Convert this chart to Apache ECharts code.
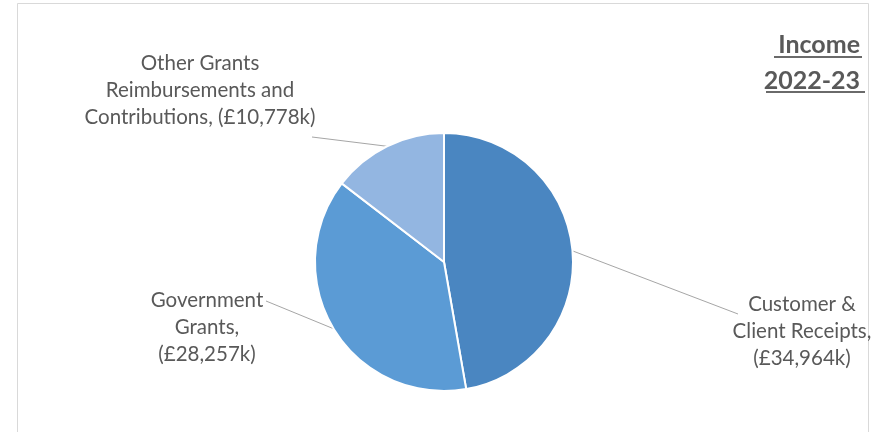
<!DOCTYPE html>
<html>
<head>
<meta charset="utf-8">
<script src="https://cdn.jsdelivr.net/npm/echarts@6/dist/echarts.min.js"></script>
<style>
html,body{margin:0;padding:0;background:#fff;}
#main{width:879px;height:432px;}
</style>
</head>
<body>
<div id="main"></div>
<script>
var categories = ['Customer &\nClient Receipts,', 'Government\nGrants,', 'Other Grants\nReimbursements and\nContributions,'];
var incomeK = [34964, 28257, 10778];
var colors = ['#4a86c1', '#5b9bd5', '#93b6e1'];

// where each label sits (centre of text block) and where its leader line ends
var labelPos = [[802, 331], [207, 327], [200, 90]];
var lineEnd = [[738, 314], [266, 301], [312, 137]];

var chart = echarts.init(document.getElementById('main'));

var pieData = categories.map(function (c, i) {
  return { name: c, value: incomeK[i], itemStyle: { color: colors[i] } };
});

var titleStyle = {
  color: '#595959',
  fontFamily: 'Lato',
  fontWeight: 'bold',
  fontSize: 25
};

var option = {
  backgroundColor: '#fff',
  title: [
    { text: 'Income', right: 14, top: 27, textStyle: titleStyle },
    { text: '2022-23', right: 14, top: 63, textStyle: titleStyle }
  ],
  graphic: [
    { type: 'rect', shape: { x: 17.5, y: 3.5, width: 851, height: 440 }, style: { fill: 'none', stroke: '#d9d9d9', lineWidth: 1 }, silent: true },
    { type: 'line', shape: { x1: 774, y1: 57, x2: 862, y2: 57 }, style: { stroke: '#6a6a6a', lineWidth: 2 } },
    { type: 'line', shape: { x1: 766, y1: 92, x2: 865, y2: 92 }, style: { stroke: '#6a6a6a', lineWidth: 2 } }
  ],
  series: [{
    type: 'pie',
    center: [444, 262],
    radius: 129,
    startAngle: 90,
    clockwise: true,
    animation: false,
    itemStyle: { borderColor: '#fff', borderWidth: 2 },
    label: {
      show: true,
      color: '#595959',
      fontFamily: 'Lato',
      fontSize: 20.5,
      lineHeight: 27,
      align: 'center',
      formatter: function (p) {
        var v = p.value.toLocaleString('en-GB');
        if (p.dataIndex === 2) return p.name + ' (£' + v + 'k)';
        return p.name + '\n(£' + v + 'k)';
      }
    },
    labelLine: { show: true, length: 20, length2: 20, lineStyle: { color: '#a6a6a6', width: 1 } },
    labelLayout: function (params) {
      var i = params.dataIndex;
      var pts = params.labelLinePoints;
      var res = { x: labelPos[i][0], y: labelPos[i][1], align: 'center', verticalAlign: 'middle' };
      if (pts) {
        res.labelLinePoints = [pts[0], lineEnd[i], lineEnd[i]];
      }
      return res;
    },
    data: pieData
  }]
};

chart.setOption(option);
</script>
</body>
</html>
